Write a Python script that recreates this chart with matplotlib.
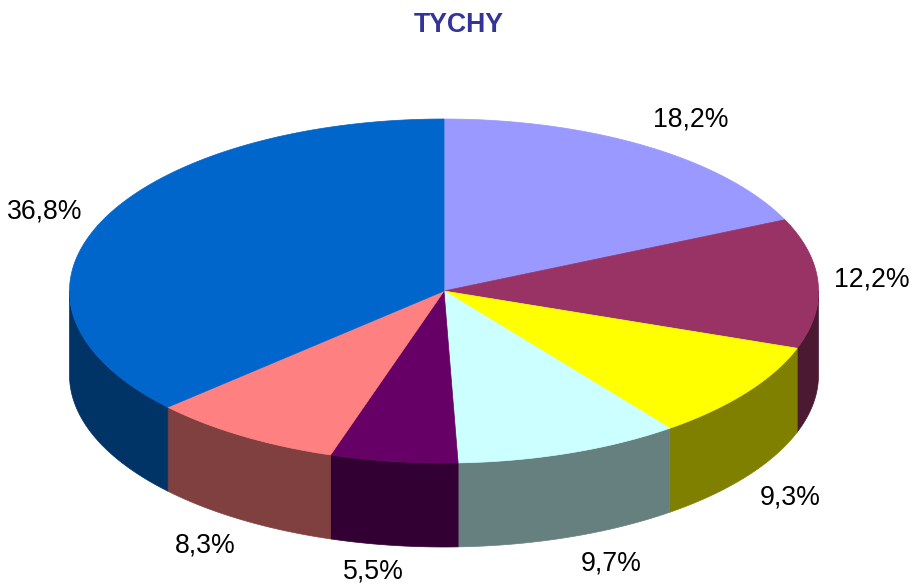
import numpy as np
import matplotlib
matplotlib.use("Agg")
import matplotlib.pyplot as plt

title = "TYCHY"
values = [18.2, 12.2, 9.3, 9.7, 5.5, 8.3, 36.8]
labels = ["18,2%", "12,2%", "9,3%", "9,7%", "5,5%", "8,3%", "36,8%"]
top_colors = ["#9999FF", "#993366", "#FFFF00", "#CCFFFF", "#660066", "#FF8080", "#0066CC"]
side_colors = ["#4C4C80", "#4C1933", "#808000", "#668080", "#330033", "#804040", "#003366"]
label_xy = [(691, 120), (872, 280), (790, 497), (611, 564), (373, 572), (205, 546), (45, 212)]

cx, cy = 444, 291  # pie centre in pixels
rx, ry = 374.5, 172  # ellipse radii
depth = 84

plt.rcParams['font.family'] = ['Liberation Sans', 'DejaVu Sans']

fig = plt.figure(figsize=(9.11, 5.84), dpi=100)
ax = fig.add_axes([0, 0, 1, 1])
ax.set_xlim(0, 911)
ax.set_ylim(584, 0)
ax.axis('off')

# slice edges, clockwise from the top, in radians
edges = np.cumsum([0] + values) / sum(values) * 2 * np.pi


def rim(t):
    return cx + rx * np.sin(t), cy - ry * np.cos(t)


# side walls first, only the part facing the viewer
for i in range(len(values)):
    a = max(edges[i], np.pi / 2)
    b = min(edges[i + 1], 3 * np.pi / 2)
    if b <= a:
        continue
    t = np.linspace(a, b, 200)
    x, y = rim(t)
    ax.fill(np.r_[x, x[::-1]], np.r_[y, y[::-1] + depth], color=side_colors[i], lw=0.5)

# top of the pie
for i in range(len(values)):
    t = np.linspace(edges[i], edges[i + 1], 300)
    x, y = rim(t)
    ax.fill(np.r_[cx, x], np.r_[cy, y], color=top_colors[i], lw=0.5)

for lab, (lx, ly) in zip(labels, label_xy):
    ax.text(lx, ly, lab, fontsize=19.2, color="black", ha='center', va='center')

ax.text(459, 25, title, fontsize=19.2, fontweight='bold', color="#333399", ha='center', va='center')

fig.savefig("out.png", dpi=100)
